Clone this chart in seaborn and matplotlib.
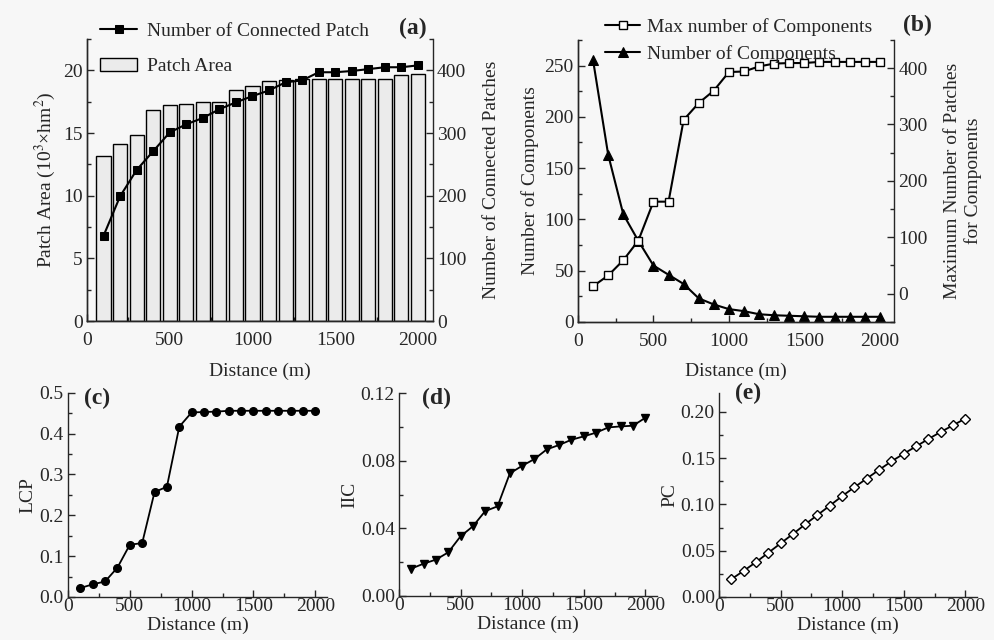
import numpy as np
import pandas as pd
import matplotlib
matplotlib.use("Agg")
import matplotlib.pyplot as plt
import seaborn as sns
from matplotlib.ticker import MultipleLocator

# distance thresholds (m)
distance = [100, 200, 300, 400, 500, 600, 700, 800, 900, 1000,
            1100, 1200, 1300, 1400, 1500, 1600, 1700, 1800, 1900, 2000]

# (a) patch area (10^3 hm2) and number of connected patches
patch_area = [13.15, 14.15, 14.85, 16.8, 17.25, 17.35, 17.45, 17.5, 18.45, 18.75,
              19.15, 19.25, 19.3, 19.3, 19.3, 19.3, 19.3, 19.35, 19.6, 19.7]
connected_patches = [136, 199, 241, 271, 301, 314, 324, 338, 349, 359,
                     368, 381, 384, 397, 397, 399, 402, 405, 405, 408]

# (b) components
n_components = [255, 163, 105, 79, 55, 46, 37, 23, 17, 12.5,
                10.5, 7.5, 6.5, 6, 5.5, 5, 5, 5, 5, 5]
max_components = [13, 32, 59, 94, 163, 163, 308, 338, 360, 393,
                  394, 403, 408, 409, 409, 411, 411, 411, 411, 411]

# (c)-(e) connectivity indices
lcp = [0.022, 0.031, 0.038, 0.072, 0.128, 0.132, 0.257, 0.270, 0.417, 0.452,
       0.453, 0.454, 0.456, 0.456, 0.456, 0.456, 0.456, 0.456, 0.456, 0.456]
iic = [0.0162, 0.0191, 0.0215, 0.0258, 0.0353, 0.0412, 0.0502, 0.0530, 0.0725, 0.0770,
       0.0810, 0.0867, 0.0893, 0.0924, 0.0944, 0.0966, 0.0997, 0.1003, 0.1007, 0.1054]
pc = [0.0192, 0.0282, 0.0376, 0.0477, 0.0579, 0.0680, 0.0785, 0.0886, 0.0987, 0.1090,
      0.1186, 0.1280, 0.1374, 0.1465, 0.1548, 0.1627, 0.1707, 0.1783, 0.1855, 0.1928]

sns.set_style("ticks")
plt.rcParams["font.family"] = ["Liberation Serif", "DejaVu Serif"]
plt.rcParams["mathtext.fontset"] = "stix"
plt.rcParams["xtick.direction"] = "in"
plt.rcParams["ytick.direction"] = "in"
plt.rcParams["axes.linewidth"] = 1.0

bg = "#f7f7f7"
fig = plt.figure(figsize=(9.94, 6.4), dpi=100, facecolor=bg)


def style_axis(ax, xminor, yminor, size, xpad):
    ax.set_facecolor("none")
    ax.spines["top"].set_visible(False)
    ax.xaxis.set_minor_locator(MultipleLocator(xminor))
    ax.yaxis.set_minor_locator(MultipleLocator(yminor))
    ax.tick_params(which="major", length=5, width=1, labelsize=size, pad=3)
    ax.tick_params(which="minor", length=3, width=1)
    ax.tick_params(axis="x", which="major", pad=xpad)
    ax.tick_params(axis="x", which="both", top=False)


# ---------- (a) ----------
ax_a = fig.add_axes([0.0875, 0.4984, 0.348, 0.4406])
sns.barplot(x=distance, y=patch_area, native_scale=True, width=0.85,
            color="#ebebeb", edgecolor="black", linewidth=1.0, ax=ax_a)
ax_a.set_xlim(0, 2090)
ax_a.set_ylim(0, 22.5)
ax_a.xaxis.set_major_locator(MultipleLocator(500))
ax_a.yaxis.set_major_locator(MultipleLocator(5))
style_axis(ax_a, 250, 2.5, 14, 8)
ax_a.spines["right"].set_visible(False)
ax_a.set_xlabel("Distance (m)", fontsize=14, labelpad=10)
ax_a.set_ylabel("Patch Area (10$^3$×hm$^2$)", fontsize=14, labelpad=4)

ax_a2 = ax_a.twinx()
sns.lineplot(x=distance, y=connected_patches, color="black", marker="s",
             markersize=6, markeredgecolor="black", linewidth=1.5, ax=ax_a2)
ax_a2.set_ylim(0, 450)
ax_a2.yaxis.set_major_locator(MultipleLocator(100))
style_axis(ax_a2, 250, 50, 14, 8)
ax_a2.set_ylabel("Number of Connected Patches", fontsize=14, labelpad=12)

fig.legend([ax_a2.lines[0], ax_a.patches[0]],
           ["Number of Connected Patch", "Patch Area"],
           loc="upper left", bbox_to_anchor=(0.087, 0.986), frameon=False,
           fontsize=14, handlelength=1.9, handletextpad=0.5, labelspacing=0.9,
           borderaxespad=0.3)
fig.text(0.415, 0.955, "(a)", fontsize=17, fontweight="bold", ha="center", va="center")

# ---------- (b) ----------
ax_b = fig.add_axes([0.5815, 0.497, 0.318, 0.4406])
sns.lineplot(x=distance, y=n_components, color="black", marker="^",
             markersize=7, markeredgecolor="black", linewidth=1.5, ax=ax_b)
ax_b.set_xlim(0, 2095)
ax_b.set_ylim(0, 275)
ax_b.xaxis.set_major_locator(MultipleLocator(500))
ax_b.yaxis.set_major_locator(MultipleLocator(50))
style_axis(ax_b, 250, 25, 14, 8)
ax_b.spines["right"].set_visible(False)
ax_b.set_xlabel("Distance (m)", fontsize=14, labelpad=9)
ax_b.set_ylabel("Number of Components", fontsize=14, labelpad=4)

ax_b2 = ax_b.twinx()
sns.lineplot(x=distance, y=max_components, color="black", marker="s",
             markersize=6, markerfacecolor="white", markeredgecolor="black",
             markeredgewidth=1.0, linewidth=1.5, ax=ax_b2)
ax_b2.set_ylim(-50.4, 450)
ax_b2.yaxis.set_major_locator(MultipleLocator(100))
style_axis(ax_b2, 250, 50, 14, 8)
ax_b2.set_ylabel("Maximum Number of Patches\nfor Components", fontsize=14,
                 labelpad=12, linespacing=1.2)

fig.legend([ax_b2.lines[0], ax_b.lines[0]],
           ["Max number of Components", "Number of Components"],
           loc="upper left", bbox_to_anchor=(0.595, 0.9925), frameon=False,
           fontsize=14, handlelength=1.8, handletextpad=0.35, labelspacing=0.46,
           borderaxespad=0.3)
fig.text(0.923, 0.96, "(b)", fontsize=17, fontweight="bold", ha="center", va="center")

# ---------- (c), (d), (e) ----------
bottom_panels = [
    ([0.0684, 0.0672, 0.2606, 0.319], lcp, "LCP", "o", "black", (0, 0.5), 0.1, 0.05, "%.1f", "(c)", (0.098, 0.378)),
    ([0.4014, 0.0688, 0.2596, 0.317], iic, "IIC", "v", "black", (0, 0.12), 0.04, 0.02, "%.2f", "(d)", (0.439, 0.378)),
    ([0.7233, 0.0672, 0.2596, 0.319], pc, "PC", "D", "white", (0, 0.2206), 0.05, 0.025, "%.2f", "(e)", (0.753, 0.386)),
]
for rect, vals, name, mk, mface, ylim, ymaj, ymin, fmt, tag, tagpos in bottom_panels:
    ax = fig.add_axes(rect)
    sns.lineplot(x=distance, y=vals, color="black", marker=mk,
                 markersize=5.5 if mk != "D" else 5, markerfacecolor=mface,
                 markeredgecolor="black", markeredgewidth=1.0, linewidth=1.3, ax=ax)
    ax.set_xlim(0, 2095)
    ax.set_ylim(*ylim)
    ax.xaxis.set_major_locator(MultipleLocator(500))
    ax.yaxis.set_major_locator(MultipleLocator(ymaj))
    ax.yaxis.set_major_formatter(matplotlib.ticker.FormatStrFormatter(fmt))
    style_axis(ax, 250, ymin, 14, 1)
    ax.spines["right"].set_visible(False)
    ax.set_xlabel("Distance (m)", fontsize=14, labelpad=1)
    ax.set_ylabel(name, fontsize=14, labelpad=2)
    fig.text(tagpos[0], tagpos[1], tag, fontsize=17, fontweight="bold",
             ha="center", va="center")

fig.savefig("out.png", dpi=100, facecolor=bg)
